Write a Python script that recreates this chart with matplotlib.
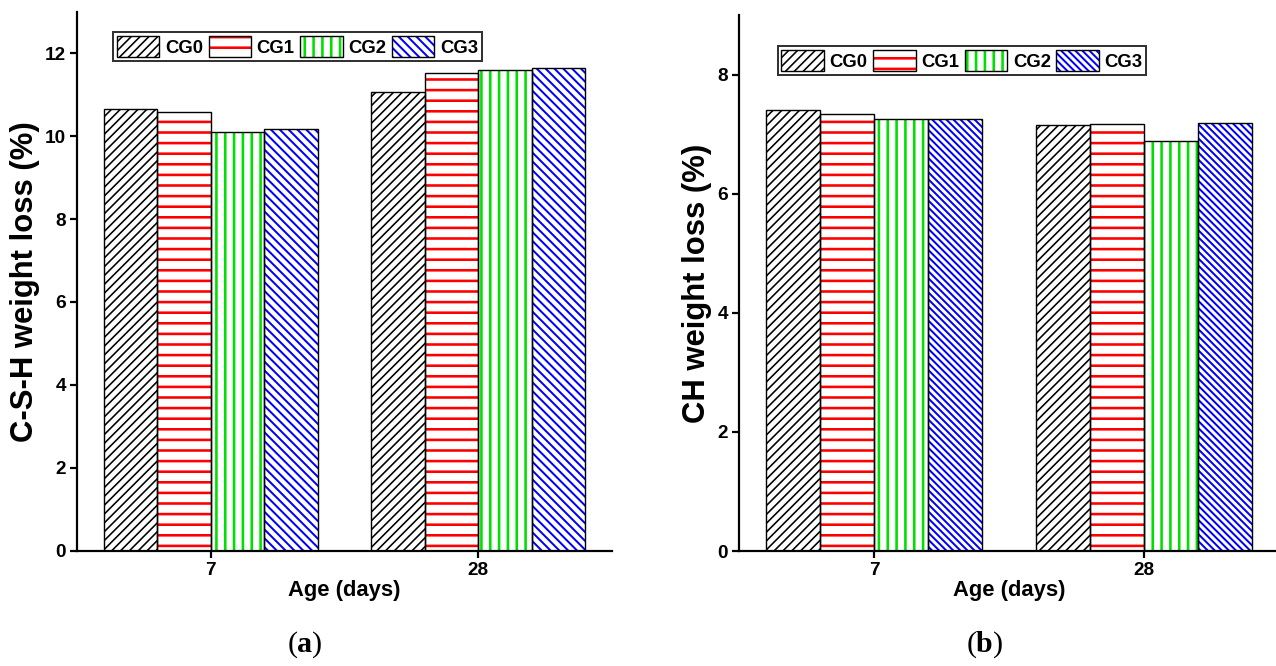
import matplotlib
matplotlib.use("Agg")
import matplotlib.pyplot as plt
from matplotlib.patches import Patch
from matplotlib.legend_handler import HandlerTuple

# ---------------- data ----------------
ages = ["7", "28"]
series = ["CG0", "CG1", "CG2", "CG3"]
csh_loss = {
    "CG0": [10.67, 11.08],
    "CG1": [10.59, 11.52],
    "CG2": [10.10, 11.60],
    "CG3": [10.18, 11.66],
}
ch_loss = {
    "CG0": [7.41, 7.15],
    "CG1": [7.34, 7.17],
    "CG2": [7.26, 6.89],
    "CG3": [7.26, 7.18],
}

# ---------------- style ----------------
DPI = 318  # hatch spacing in Agg scales with dpi


def pt(px):
    return px * 72.0 / DPI


colors = {"CG0": "black", "CG1": "#ff0000", "CG2": "#00e000", "CG3": "#0000ff"}
hatch_a = {"CG0": "/" * 12, "CG1": "-----", "CG2": "||||||", "CG3": "\\" * 12}
hatch_b = {"CG0": "/" * 12, "CG1": "-----", "CG2": "||||||", "CG3": "\\" * 15}
hatch_lw = {"CG0": 1.6, "CG1": 2.6, "CG2": 2.6, "CG3": 2.0}

plt.rcParams["path.simplify"] = False
plt.rcParams["font.family"] = ["Liberation Sans", "DejaVu Sans"]
plt.rcParams["font.weight"] = "bold"
plt.rcParams["mathtext.fontset"] = "custom"
plt.rcParams["mathtext.rm"] = "Liberation Serif"
plt.rcParams["mathtext.bf"] = "Liberation Serif:bold"

fig = plt.figure(figsize=(1276 / DPI, 666 / DPI), dpi=DPI)
fig.patch.set_facecolor("white")

ax_a = fig.add_axes([77 / 1276, (666 - 550.5) / 666, 535 / 1276, 538.5 / 666])
ax_b = fig.add_axes([739 / 1276, (666 - 551) / 666, 540.5 / 1276, 536 / 666])

width = 0.2
offsets = [-1.5, -0.5, 0.5, 1.5]


def make_hatch_patch(s, hatches):
    hp = Patch(facecolor="white", edgecolor=colors[s], hatch=hatches[s], linewidth=0)
    if hasattr(hp, "set_hatch_linewidth"):
        hp.set_hatch_linewidth(pt(hatch_lw[s]))
    return hp


def draw_panel(ax, data, hatches, ymax, yticks, ylabel):
    x = list(range(len(ages)))
    handles = []
    for s, off in zip(series, offsets):
        pos = [xi + off * width for xi in x]
        bars = ax.bar(pos, data[s], width=width, facecolor="white",
                      edgecolor=colors[s], hatch=hatches[s], linewidth=0, zorder=2)
        for b in bars:
            if hasattr(b, "set_hatch_linewidth"):
                b.set_hatch_linewidth(pt(hatch_lw[s]))
        ax.bar(pos, data[s], width=width, fill=False, edgecolor="black",
               linewidth=pt(1.4), zorder=3)
        op = Patch(fill=False, edgecolor="black", linewidth=pt(1.4))
        handles.append((make_hatch_patch(s, hatches), op))
    ax.set_xlim(-0.5, 1.5)
    ax.set_ylim(0, ymax)
    ax.set_xticks(x)
    ax.set_xticklabels(ages)
    ax.set_yticks(yticks)
    ax.set_yticklabels([str(v) for v in yticks])
    for side in ("top", "right"):
        ax.spines[side].set_visible(False)
    for side in ("left", "bottom"):
        ax.spines[side].set_linewidth(pt(2.2))
    ax.tick_params(axis="both", direction="out", length=pt(7), width=pt(2.2),
                   colors="black")
    ax.tick_params(axis="y", labelsize=pt(19), pad=pt(4))
    ax.tick_params(axis="x", labelsize=pt(19), pad=pt(4))
    ax.set_xlabel("Age (days)", fontsize=pt(22), fontweight="bold", labelpad=pt(1))
    ax.set_ylabel(ylabel, fontsize=pt(31), fontweight="bold", labelpad=pt(5))
    return handles


h_a = draw_panel(ax_a, csh_loss, hatch_a, 13, [0, 2, 4, 6, 8, 10, 12],
                 "C-S-H weight loss (%)")
h_b = draw_panel(ax_b, ch_loss, hatch_b, 9, [0, 2, 4, 6, 8],
                 "CH weight loss (%)")


class HatchTupleHandler(HandlerTuple):
    def create_artists(self, legend, orig_handle, xdescent, ydescent, width, height,
                       fontsize, trans):
        arts = super().create_artists(legend, orig_handle, xdescent, ydescent, width,
                                      height, fontsize, trans)
        for a, src in zip(arts, orig_handle):
            if hasattr(src, "get_hatch_linewidth") and hasattr(a, "set_hatch_linewidth"):
                a.set_hatch_linewidth(src.get_hatch_linewidth())
        return arts


def add_legend(ax, handles, x0, y0, x1, y1):
    leg = ax.legend(handles, series, ncol=4, handler_map={tuple: HatchTupleHandler(ndivide=1)},
                    loc="center", bbox_to_anchor=((x0 + x1) / 2 / 1276, 1 - (y0 + y1) / 2 / 666),
                    bbox_transform=fig.transFigure,
                    prop={"family": "Liberation Sans", "weight": "bold", "size": pt(18.5)},
                    handlelength=2.3, handleheight=1.35, handletextpad=0.3,
                    columnspacing=0.3, borderpad=0.2, borderaxespad=0,
                    frameon=True, fancybox=False, framealpha=1)
    fr = leg.get_frame()
    fr.set_edgecolor("#333333")
    fr.set_linewidth(pt(2.0))
    leg.set_zorder(5)


add_legend(ax_a, h_a, 117, 29, 478, 64)
add_legend(ax_b, h_b, 779, 43, 1145, 78)

fig.text(305 / 1276, 1 - 645 / 666, r"($\mathbf{a}$)", ha="center", va="center",
         fontsize=pt(30), family="Liberation Serif", fontweight="normal")
fig.text(985 / 1276, 1 - 645 / 666, r"($\mathbf{b}$)", ha="center", va="center",
         fontsize=pt(30), family="Liberation Serif", fontweight="normal")

fig.savefig("out.png", dpi=DPI, facecolor="white")
